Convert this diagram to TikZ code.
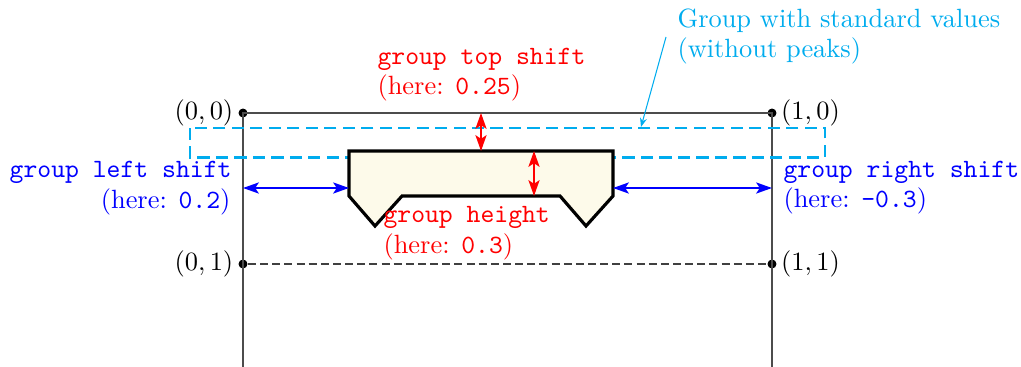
\documentclass[tikz,border=0pt]{standalone}
\usetikzlibrary{arrows.meta}
\definecolor{stdcyan}{RGB}{0,172,238}
\definecolor{grpfill}{RGB}{253,250,234}
\tikzset{
  frame/.style={draw=black!70, line width=0.5pt},
  dotnode/.style={circle, fill=black, inner sep=0pt, minimum size=3.4pt},
  lbl/.style={inner sep=0pt, font=\normalsize},
  grp/.style={draw=black, line width=1.2pt, fill=grpfill, line join=miter},
  stdbox/.style={draw=stdcyan, line width=0.85pt, dash pattern=on 4.6pt off 2.4pt},
  redarr/.style={draw=red, line width=0.8pt, {Stealth[length=6pt,width=4.2pt,inset=1.4pt]}-{Stealth[length=6pt,width=4.2pt,inset=1.4pt]}},
  bluearr/.style={draw=blue, line width=0.8pt, {Stealth[length=6pt,width=4.2pt,inset=1.4pt]}-{Stealth[length=6pt,width=4.2pt,inset=1.4pt]}},
  cyanarr/.style={draw=stdcyan, line width=0.4pt, -{Stealth[length=3.4pt,width=2.6pt]}}
}
\begin{document}
\begin{tikzpicture}[x=0.3788pt, y=-0.3788pt]
\useasboundingbox (0,0) rectangle (1021,367);
% frame
\coordinate (b0) at (243,367);
\coordinate (b1) at (772,367);
\node[dotnode, label={[lbl, xshift=-1.6pt]left:$(0,0)$}] (p00) at (243,113) {};
\node[dotnode, label={[lbl, xshift=1.4pt]right:$(1,0)$}] (p10) at (772,113) {};
\node[dotnode, label={[lbl, xshift=-1.6pt]left:$(0,1)$}] (p01) at (243,264) {};
\node[dotnode, label={[lbl, xshift=1.4pt]right:$(1,1)$}] (p11) at (772,264) {};
\draw[frame] (b0) -- (p00.center) -- (p10.center) -- (b1);
\draw[draw=black!75, line width=0.5pt, dash pattern=on 3pt off 1.6pt] (p01) -- (p11);
% standard group
\draw[stdbox] (190,128) rectangle (825,157.5);
% group shape
\draw[grp] (349,151) -- (613,151) -- (613,196) -- (586,226) -- (560,196) -- (402,196) -- (375,226) -- (349,196) -- cycle;
% arrows
\coordinate (tsA) at (481,113);
\coordinate (tsB) at (481,151);
\draw[redarr] (tsA) -- (tsB);
\coordinate (ghA) at (534,151);
\coordinate (ghB) at (534,196);
\draw[redarr] (ghA) -- (ghB);
\coordinate (lsA) at (243,188);
\coordinate (lsB) at (349,188);
\draw[bluearr] (lsA) -- (lsB);
\coordinate (rsA) at (613,188);
\coordinate (rsB) at (772,188);
\draw[bluearr] (rsA) -- (rsB);
% labels
\node[lbl, text=red, anchor=base west] (ts1) at (377,64) {\texttt{group top shift}};
\node[lbl, text=red, anchor=base west] (ts2) at (377,94) {(here: \texttt{0.25})};
\node[lbl, text=red, anchor=base west] (gh1) at (383,222) {\texttt{group height}};
\node[lbl, text=red, anchor=base west] (gh2) at (383,253) {(here: \texttt{0.3})};
\node[lbl, text=blue, anchor=base east] (ls1) at (232,177) {\texttt{group left shift}};
\node[lbl, text=blue, anchor=base east] (ls2) at (231,208) {(here: \texttt{0.2})};
\node[lbl, text=blue, anchor=base west] (rs1) at (783,177) {\texttt{group right shift}};
\node[lbl, text=blue, anchor=base west] (rs2) at (783,207) {(here: \texttt{-0.3})};
\node[lbl, text=stdcyan, anchor=base west] (sd1) at (677,27) {Group with standard values};
\node[lbl, text=stdcyan, anchor=base west] (sd2) at (677,57) {(without peaks)};
\coordinate (sdA) at (666,37);
\coordinate (sdB) at (641,127);
\draw[cyanarr] (sdA) -- (sdB);
\end{tikzpicture}
\end{document}
